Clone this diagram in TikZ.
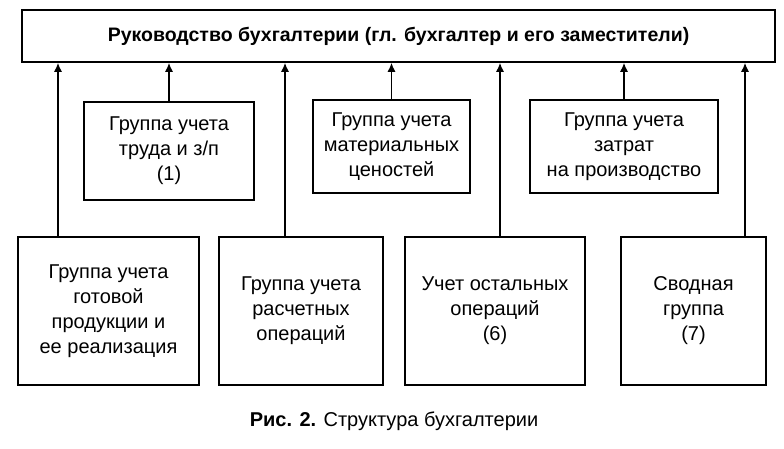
\documentclass[tikz,border=0pt]{standalone}
\usepackage{fontspec}
\usetikzlibrary{arrows.meta}
\setmainfont{Liberation Sans}
\begin{document}
\begin{tikzpicture}[x=1pt,y=-1pt,
  bx/.style={draw,line width=1.5pt,align=center,font=\fontsize{20}{25}\selectfont,inner sep=0},
  ar/.style={-{Latex[length=9pt,width=8pt]},line width=1.5pt}]
\useasboundingbox (0,0) rectangle (784,448);
\fill[white] (0,0) rectangle (784,448);
\node[bx,font=\bfseries\fontsize{19.5}{25}\selectfont,minimum width=753pt,minimum height=52pt] (top) at (398.5,36) {Руководство бухгалтерии (гл. бухгалтер и его заместители)};
\node[bx,minimum width=170pt,minimum height=98pt] (m1) at (169,151) {Группа учета\\труда и з/п\\(1)};
\node[bx,minimum width=157pt,minimum height=93pt] (m2) at (391.5,146.5) {Группа учета\\материальных\\ценостей};
\node[bx,minimum width=188pt,minimum height=93pt] (m3) at (624,146.5) {Группа учета\\затрат\\на производство};
\node[bx,minimum width=181pt,minimum height=148pt] (b1) at (108.5,311) {Группа учета\\готовой\\продукции и\\ее реализация};
\node[bx,minimum width=164pt,minimum height=148pt] (b2) at (301,311) {Группа учета\\расчетных\\операций};
\node[bx,minimum width=180pt,minimum height=148pt] (b3) at (495,311) {Учет остальных\\операций\\(6)};
\node[bx,minimum width=145pt,minimum height=148pt] (b4) at (693.5,311) {Сводная\\группа\\(7)};
\draw[ar] (m1.north) -- (m1.north|-top.south);
\draw[ar] (m2.north) -- (m2.north|-top.south);
\draw[ar] (m3.north) -- (m3.north|-top.south);
\coordinate (c1) at (58,237); \draw[ar] (c1) -- (c1|-top.south);
\coordinate (c2) at (285,237); \draw[ar] (c2) -- (c2|-top.south);
\coordinate (c3) at (500,237); \draw[ar] (c3) -- (c3|-top.south);
\coordinate (c4) at (745,237); \draw[ar] (c4) -- (c4|-top.south);
\node[font=\fontsize{20}{24}\selectfont] (cap) at (394,421) {\textbf{Рис. 2.} Структура бухгалтерии};
\end{tikzpicture}
\end{document}
